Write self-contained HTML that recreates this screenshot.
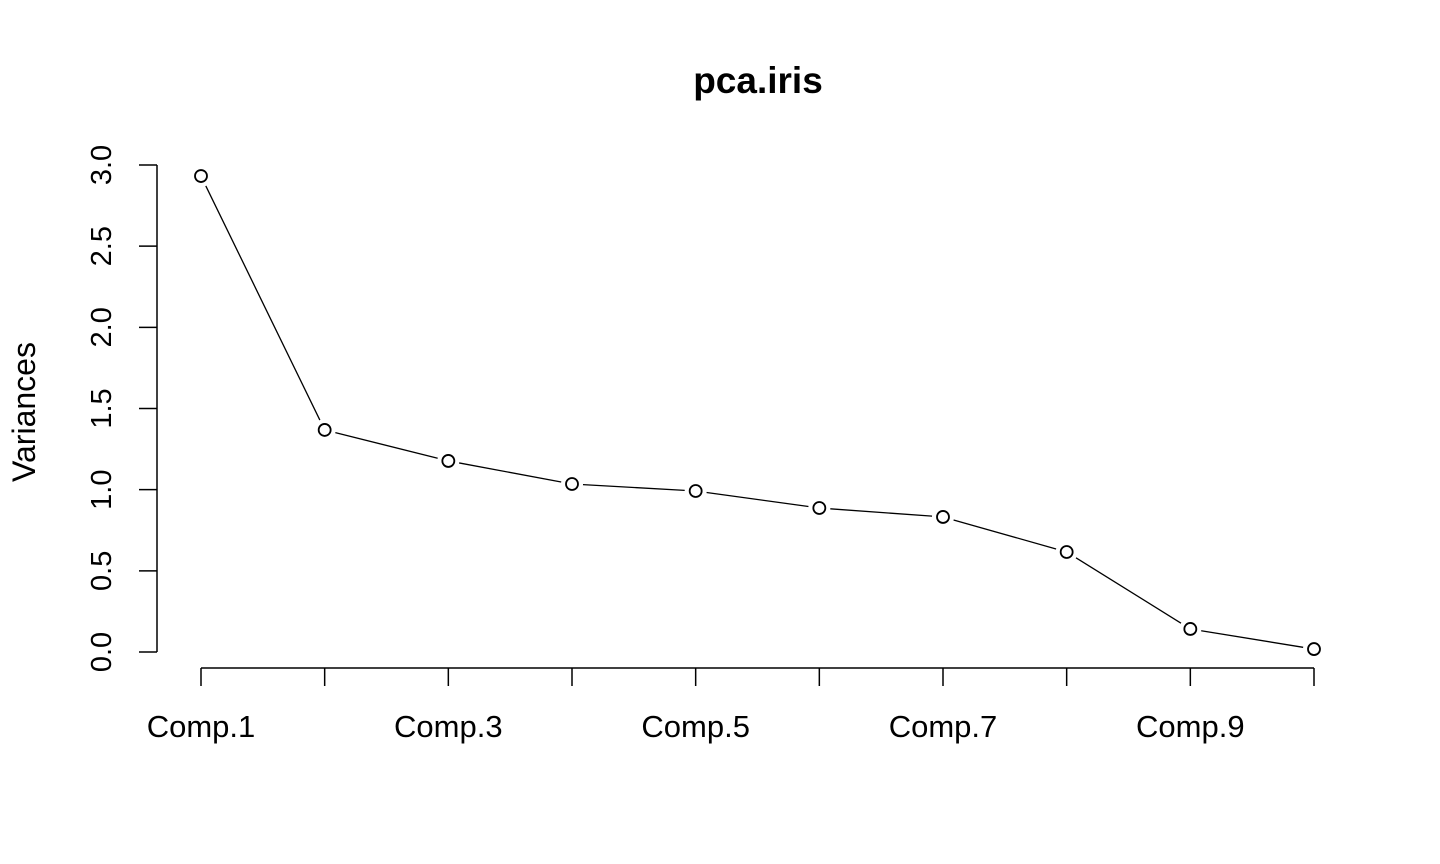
<!DOCTYPE html>
<html><head><meta charset="utf-8"><style>
html,body{margin:0;padding:0;background:#fff;}
svg{display:block;font-family:"Liberation Sans",Arial,sans-serif;}
</style></head><body>
<svg id="chart" width="1440" height="864" viewBox="0 0 1440 864">
<text x="758" y="93" text-anchor="middle" font-size="37" font-weight="bold">pca.iris</text>
<text transform="translate(35,412) rotate(-90)" text-anchor="middle" font-size="32">Variances</text>
<g id="axes"></g>
<g id="marks"></g>
</svg>
<script>
const categories = ["Comp.1","Comp.2","Comp.3","Comp.4","Comp.5","Comp.6","Comp.7","Comp.8","Comp.9","Comp.10"];
const variances = [2.932,1.368,1.177,1.035,0.992,0.887,0.832,0.616,0.142,0.018];
const yTicks = [0,0.5,1,1.5,2,2.5,3];
const yTickLabels = ["0.0","0.5","1.0","1.5","2.0","2.5","3.0"];
const xLabelIdx = [0,2,4,6,8];

const NS="http://www.w3.org/2000/svg";
const x0=201, x1=1314, yBase=652, yTop=165;
function xs(i){return x0+(x1-x0)*i/(categories.length-1);}
function ys(v){return yBase-(yBase-yTop)*v/3;}
function mk(tag,attrs,parent){const e=document.createElementNS(NS,tag);for(const k in attrs)e.setAttribute(k,attrs[k]);parent.appendChild(e);return e;}
const axes=document.getElementById('axes'), marks=document.getElementById('marks');

let yl=mk('line',{x1:157,y1:ys(3),x2:157,y2:ys(0),stroke:'#000','stroke-width':1.5},axes);


yTicks.forEach((t,i)=>{
  const tk=mk('line',{x1:139,y1:ys(t),x2:157,y2:ys(t),stroke:'#000','stroke-width':1.5},axes);
  
  
  const tx=mk('text',{transform:`translate(111,${ys(t)}) rotate(-90)`,'text-anchor':'middle','font-size':29},axes);
  tx.textContent=yTickLabels[i];
  
  
});
let xl=mk('line',{x1:xs(0),y1:668,x2:xs(categories.length-1),y2:668,stroke:'#000','stroke-width':1.5},axes);


categories.forEach((c,i)=>{
  const tk=mk('line',{x1:xs(i),y1:668,x2:xs(i),y2:686,stroke:'#000','stroke-width':1.5},axes);
  
  
});
xLabelIdx.forEach(i=>{
  const tx=mk('text',{x:xs(i),y:737,'text-anchor':'middle','font-size':31},axes);
  tx.textContent=categories[i];
  
  
});
const gap=11;
for(let i=0;i<variances.length-1;i++){
  const ax=xs(i),ay=ys(variances[i]),bx=xs(i+1),by=ys(variances[i+1]);
  const dx=bx-ax,dy=by-ay,L=Math.hypot(dx,dy);
  if(L<=2*gap)continue;
  const ux=dx/L,uy=dy/L;
  const s=mk('line',{x1:ax+ux*gap,y1:ay+uy*gap,x2:bx-ux*gap,y2:by-uy*gap,stroke:'#000','stroke-width':1.3},marks);
  
  
}
variances.forEach((v,i)=>{
  const c=mk('circle',{cx:xs(i),cy:ys(v),r:6,fill:'none',stroke:'#000','stroke-width':1.8},marks);
  
  
});
</script>
</body></html>
